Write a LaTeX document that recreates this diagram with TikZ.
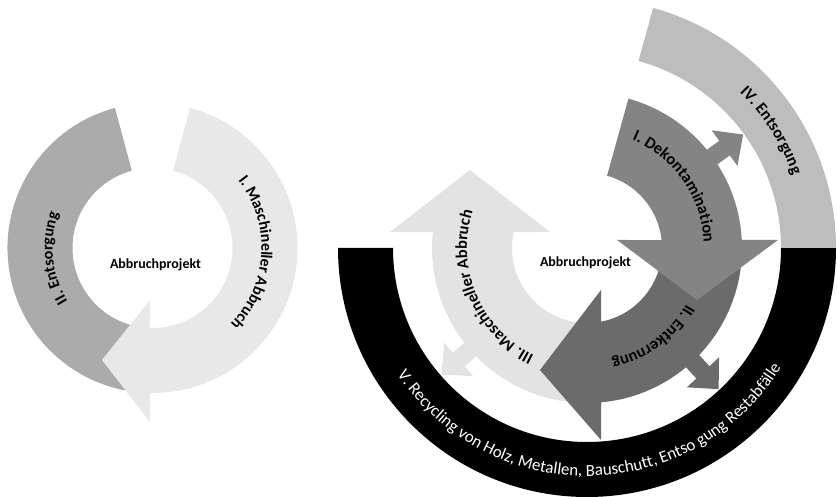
\documentclass[tikz,border=0pt]{standalone}
\usepackage{fontspec}
\setmainfont{Carlito}
\usetikzlibrary{decorations.text}

\definecolor{grauL}{HTML}{ABABAB}
\definecolor{hellL}{HTML}{E8E8E8}
\definecolor{grauA}{HTML}{848484}
\definecolor{grauB}{HTML}{6B6B6B}
\definecolor{hellC}{HTML}{E3E3E3}
\definecolor{grauD}{HTML}{BDBDBD}

\newcommand\projfont{\bfseries\fontsize{14}{16}\selectfont}
\newcommand\bogenfont{\bfseries\fontsize{16.5}{19}\selectfont}
\newcommand\linksfont{\bfseries\fontsize{16}{18}\selectfont}
\newcommand\ringfont{\fontsize{17}{19}\selectfont}

\tikzset{
  bogentext/.style={decorate, decoration={text along path, text align=center, text={#1}}},
  ringtext/.style={decorate, decoration={text along path, text align=center, text color=white, text={#1}}},
  kleinpfeil/.style={rotate=#1},
}

\begin{document}
\begin{tikzpicture}[x=1bp, y=1bp]
    \useasboundingbox (0,0) rectangle (837,497);

    % linker Kreis
    \begin{scope}[shift={(152.5,249)}]
        \fill[grauL] (105:145) arc[start angle=105, end angle=262, radius=145]
            -- (262:80) arc[start angle=262, end angle=105, radius=80] -- cycle;
        \fill[hellL] (75:145) arc[start angle=75, end angle=-91, radius=145]
            -- (-2.5,-174) -- (-50.5,-112) -- (-2.5,-52)
            -- (-92:80) arc[start angle=-92, end angle=75, radius=80] -- cycle;

        \node (projektL) at (3,-17) {\projfont Abbruchprojekt};

        \path[bogentext={|\linksfont|II. Entsorgung}] (221:100) arc[start angle=221, end angle=151, radius=100];
        \path[bogentext={|\linksfont|I. Maschineller Abbruch}] (60:109) arc[start angle=60, end angle=-66, radius=109];
    \end{scope}

    % rechter Kreis
    \begin{scope}[shift={(587,249)}]
        \fill[black] (180:249) arc[start angle=180, end angle=360, radius=249]
            -- (0:194) arc[start angle=360, end angle=180, radius=194] -- cycle;
        \fill[grauD] (74.6:249) arc[start angle=74.6, end angle=0, radius=249]
            -- (0:194) arc[start angle=0, end angle=74.6, radius=194] -- cycle;

        \fill[hellC] (265:155) arc[start angle=265, end angle=174.1, radius=155]
            -- (-197,16) -- (-117,78) -- (-37,16)
            -- (167.7:75) arc[start angle=167.7, end angle=265, radius=75] -- cycle;
        \fill[hellC, kleinpfeil=221] (150,-9) -- (170,-9) -- (170,-22) -- (193,0) -- (170,22) -- (170,9) -- (150,9) -- cycle;

        \fill[grauB] (2:155) arc[start angle=2, end angle=-84.8, radius=155]
            -- (14,-192) -- (-47,-122) -- (14,-42)
            -- (-79.2:75) arc[start angle=-79.2, end angle=2, radius=75] -- cycle;
        \fill[grauB, kleinpfeil=-47] (150,-9) -- (170,-9) -- (170,-22) -- (193,0) -- (170,22) -- (170,9) -- (150,9) -- cycle;

        \fill[grauA] (74.5:155) arc[start angle=74.5, end angle=3, radius=155]
            -- (191,8) -- (110,-52) -- (30,8)
            -- (6.1:75) arc[start angle=6.1, end angle=74.5, radius=75] -- cycle;
        \fill[grauA, kleinpfeil=36] (150,-9) -- (170,-9) -- (170,-22) -- (193,0) -- (170,22) -- (170,9) -- (150,9) -- cycle;

        \node (projektR) at (-1.5,-15) {\projfont Abbruchprojekt};

        \path[bogentext={|\bogenfont|I. Dekontamination}] (90:117) arc[start angle=90, end angle=-20, radius=117];
        \path[bogentext={|\bogenfont|II. Entkernung}] (-5:114) arc[start angle=-5, end angle=-102, radius=114];
        \path[bogentext={|\bogenfont|III. Maschineller Abbruch}] (262:120) arc[start angle=262, end angle=144, radius=120];
        \path[bogentext={|\bogenfont|IV. Entsorgung}] (72:218) arc[start angle=72, end angle=-7, radius=218];
        \path[ringtext={|\ringfont|V. Recycling von Holz, Metallen, Bauschutt, Entso gung Restabfälle}] (200:228) arc[start angle=200, end angle=342, radius=228];
    \end{scope}
\end{tikzpicture}
\end{document}
